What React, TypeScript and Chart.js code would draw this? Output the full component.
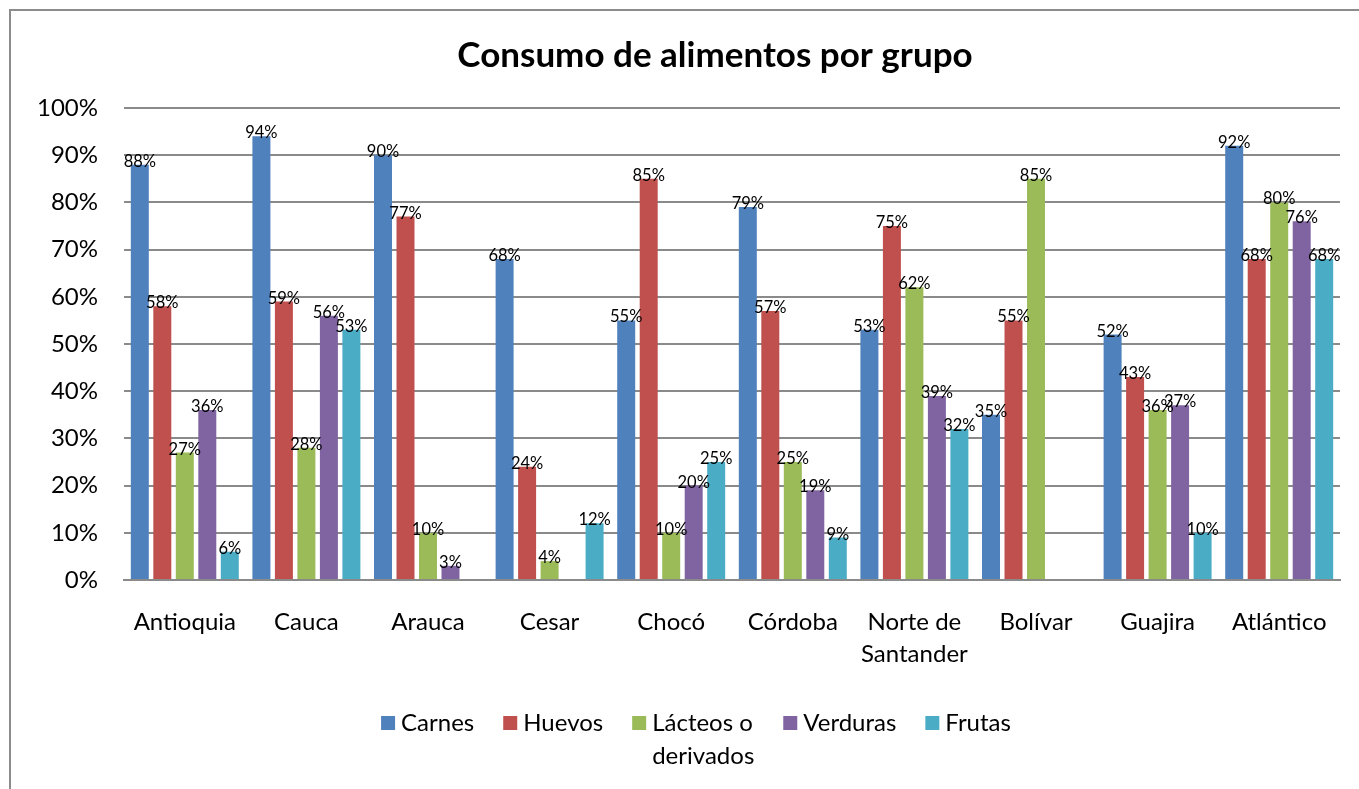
import React, { useEffect, useRef } from "react";
import { Chart, registerables } from "chart.js";

Chart.register(...registerables);

const chartTitle = "Consumo de alimentos por grupo";
const categories: (string | string[])[] = [
  "Antioquia",
  "Cauca",
  "Arauca",
  "Cesar",
  "Chocó",
  "Córdoba",
  ["Norte de", "Santander"],
  "Bolívar",
  "Guajira",
  "Atlántico",
];
const seriesNames = ["Carnes", "Huevos", "Lácteos o derivados", "Verduras", "Frutas"];
const legendLines: string[][] = [["Carnes"], ["Huevos"], ["Lácteos o", "derivados"], ["Verduras"], ["Frutas"]];
const seriesColors = ["#4F81BD", "#C0504D", "#9BBB59", "#8064A2", "#4BACC6"];
const carnes = [88, 94, 90, 68, 55, 79, 53, 35, 52, 92];
const huevos = [58, 59, 77, 24, 85, 57, 75, 55, 43, 68];
const lacteos = [27, 28, 10, 4, 10, 25, 62, 85, 36, 80];
const verduras = [36, 56, 3, null, 20, 19, 39, null, 37, 76];
const frutas = [6, 53, null, 12, 25, 9, 32, null, 10, 68];
const yTicks = [0, 10, 20, 30, 40, 50, 60, 70, 80, 90, 100];

const FONT = "Lato, 'Open Sans', sans-serif";

const titlePlugin = {
  id: "customTitle",
  afterDraw(chart: any) {
    const ctx = chart.ctx;
    ctx.save();
    ctx.font = `bold 35px ${FONT}`;
    ctx.fillStyle = "#000";
    ctx.textAlign = "center";
    ctx.textBaseline = "middle";
    ctx.fillText(chartTitle, 715, 56);
    ctx.restore();
  },
};

const labelPlugin = {
  id: "barLabels",
  afterDatasetsDraw(chart: any) {
    const ctx = chart.ctx;
    ctx.save();
    ctx.font = `16.5px ${FONT}`;
    ctx.fillStyle = "#000";
    ctx.textAlign = "center";
    ctx.textBaseline = "alphabetic";
    chart.data.datasets.forEach((ds: any, di: number) => {
      const meta = chart.getDatasetMeta(di);
      meta.data.forEach((el: any, i: number) => {
        const v = ds.data[i];
        if (v === null || v === undefined) return;
        ctx.fillText(`${v}%`, el.x, el.y + 2);
      });
    });
    ctx.restore();
  },
};

const legendPlugin = {
  id: "customLegend",
  afterDraw(chart: any) {
    const ctx = chart.ctx;
    ctx.save();
    ctx.font = `24px ${FONT}`;
    ctx.textBaseline = "middle";
    ctx.textAlign = "left";
    const box = 14;
    const gapBoxText = 6;
    const gapItems = 29;
    const widths = legendLines.map((lines) =>
      Math.max(...lines.map((l) => ctx.measureText(l).width))
    );
    const itemWidths = widths.map((w) => box + gapBoxText + w);
    const total = itemWidths.reduce((a, b) => a + b, 0) + gapItems * (itemWidths.length - 1);
    let x = 696 - total / 2;
    const y0 = 723;
    const lh = 33;
    legendLines.forEach((lines, i) => {
      ctx.fillStyle = seriesColors[i];
      ctx.fillRect(x, y0 - box / 2, box, box);
      ctx.fillStyle = "#000";
      lines.forEach((l, li) => {
        const tw = ctx.measureText(l).width;
        const tx = li === 0 ? x + box + gapBoxText : x + box + gapBoxText + (widths[i] - tw) / 2;
        ctx.fillText(l, tx, y0 + li * lh);
      });
      x += itemWidths[i] + gapItems;
    });
    ctx.restore();
  },
};

export default function App() {
  const ref = useRef<HTMLCanvasElement | null>(null);
  useEffect(() => {
    if (!ref.current) return;
    const seriesData = [carnes, huevos, lacteos, verduras, frutas];
    const chart = new Chart(ref.current, {
      type: "bar",
      data: {
        labels: categories as any,
        datasets: seriesNames.map((name, i) => ({
          label: name,
          data: seriesData[i] as any,
          backgroundColor: seriesColors[i],
          borderWidth: 0,
          categoryPercentage: 0.925,
          barPercentage: 0.8,
        })),
      },
      options: {
        animation: false,
        responsive: false,
        maintainAspectRatio: false,
        layout: { padding: { left: 0, right: 19, top: 108, bottom: 0 } },
        plugins: {
          legend: { display: false },
          title: { display: false },
          tooltip: { enabled: false },
        },
        scales: {
          x: {
            grid: { display: false, drawTicks: false },
            border: { display: true, color: "#8a8a8a", width: 2 },
            ticks: {
              color: "#000",
              font: { family: FONT, size: 24, lineHeight: 1.33 },
              padding: 26,
              maxRotation: 0,
              autoSkip: false,
            },
            afterFit(scale: any) {
              scale.height = 209;
            },
          },
          y: {
            min: 0,
            max: 100,
            afterBuildTicks(scale: any) {
              scale.ticks = yTicks.map((v) => ({ value: v }));
            },
            grid: { color: "#8a8a8a", lineWidth: 2, drawTicks: false },
            border: { display: false },
            ticks: {
              color: "#000",
              font: { family: FONT, size: 24 },
              padding: 26,
              callback: (v: any) => `${v}%`,
            },
            afterFit(scale: any) {
              scale.width = 124;
            },
          },
        },
      },
      plugins: [titlePlugin, labelPlugin, legendPlugin],
    });
    return () => chart.destroy();
  }, []);

  return (
    <div
      style={{
        position: "fixed",
        left: 0,
        top: 0,
        width: 1359,
        height: 789,
        overflow: "hidden",
        background: "#fff",
      }}
    >
      <div
        style={{
          position: "absolute",
          left: 9,
          top: 9,
          width: 1400,
          height: 900,
          border: "2px solid #8c8c8c",
          boxSizing: "border-box",
        }}
      />
      <canvas
        ref={ref}
        width={1359}
        height={789}
        style={{ position: "absolute", left: 0, top: 0, width: 1359, height: 789 }}
      />
    </div>
  );
}
